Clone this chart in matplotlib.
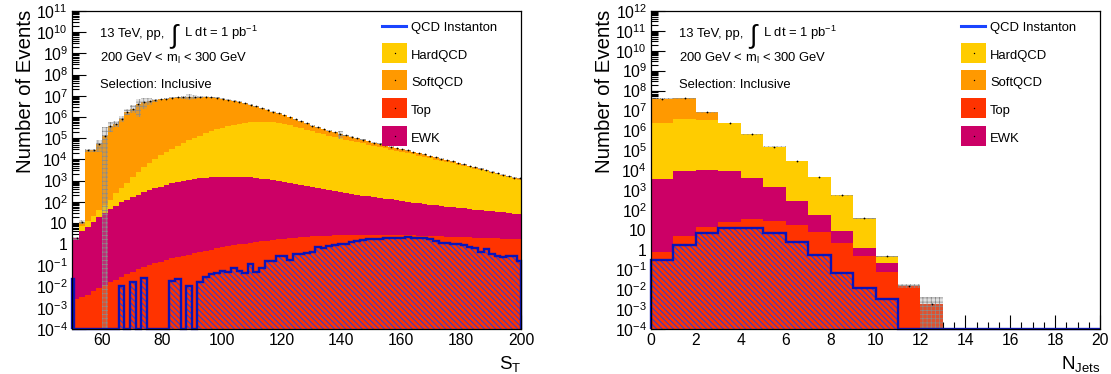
import numpy as np
import matplotlib
matplotlib.use('Agg')
import matplotlib.pyplot as plt
from matplotlib.ticker import FixedLocator, LogLocator, NullFormatter, FuncFormatter, MultipleLocator
from matplotlib.lines import Line2D
from matplotlib.patches import Rectangle

plt.rcParams['font.family'] = ['Liberation Sans', 'DejaVu Sans']
plt.rcParams['mathtext.fontset'] = 'custom'
plt.rcParams['mathtext.rm'] = 'Liberation Sans'
plt.rcParams['mathtext.it'] = 'Liberation Sans:italic'
plt.rcParams['mathtext.bf'] = 'Liberation Sans:bold'
plt.rcParams['hatch.linewidth'] = 0.7

W, H = 1111, 374

C_HARD = '#ffcc00'
C_SOFT = '#ff9900'
C_TOP = '#ff3300'
C_EWK = '#cc0066'
C_INST = '#0b14b8'
C_INST_LEG = '#1a44ff'
C_HATCH = '#2a3fd8'

nan = np.nan

# ---------------- S_T distribution (log10 of events per 1.875 GeV bin) ----------------
st_top_log = [-2.67, -2.6, -2.5, -2.38, -2.2, -2.05, -1.92, -1.8, -1.67, -1.54,
              -1.41, -1.29, -1.18, -1.07, -0.98, -0.9, -0.82, -0.74, -0.67, -0.61,
              -0.55, -0.49, -0.43, -0.37, -0.31, -0.26, -0.2, -0.15, -0.1, -0.05,
              -0.01, 0.03, 0.07, 0.11, 0.14, 0.17, 0.2, 0.23, 0.26, 0.28,
              0.31, 0.33, 0.35, 0.37, 0.38, 0.4, 0.41, 0.42, 0.43, 0.44,
              0.44, 0.45, 0.45, 0.45, 0.45, 0.45, 0.45, 0.44, 0.44, 0.43,
              0.43, 0.42, 0.41, 0.4, 0.39, 0.38, 0.37, 0.36, 0.35, 0.34,
              0.33, 0.32, 0.31, 0.3, 0.29, 0.28, 0.27, 0.26, 0.25, 0.24, 0.24]
st_ewk_log = [0.28, 0.28, 0.6, 0.82, 1.05, 1.28, 1.48, 1.66, 1.82, 1.97,
              2.1, 2.22, 2.34, 2.45, 2.55, 2.64, 2.72, 2.8, 2.87, 2.93,
              2.98, 3.03, 3.07, 3.1, 3.13, 3.15, 3.17, 3.18, 3.19, 3.19,
              3.18, 3.17, 3.15, 3.12, 3.09, 3.06, 3.02, 2.98, 2.94, 2.9,
              2.86, 2.81, 2.76, 2.71, 2.66, 2.61, 2.56, 2.51, 2.46, 2.41,
              2.37, 2.33, 2.29, 2.25, 2.21, 2.17, 2.13, 2.1, 2.06, 2.02,
              1.99, 1.95, 1.92, 1.89, 1.85, 1.82, 1.79, 1.76, 1.73, 1.7,
              1.67, 1.64, 1.61, 1.58, 1.55, 1.52, 1.5, 1.47, 1.44, 1.41, 1.38]
st_hard_log = [nan, nan, 0.49, 0.78, 1.05, 1.32, 1.61, 1.9, 2.27, 2.55,
               2.82, 3.1, 3.36, 3.59, 3.8, 3.98, 4.17, 4.34, 4.49, 4.63,
               4.76, 4.89, 5.01, 5.12, 5.22, 5.32, 5.41, 5.49, 5.56, 5.62,
               5.67, 5.71, 5.74, 5.76, 5.77, 5.77, 5.75, 5.71, 5.67, 5.61,
               5.54, 5.47, 5.4, 5.33, 5.26, 5.19, 5.12, 5.06, 4.99, 4.93,
               4.87, 4.81, 4.75, 4.69, 4.63, 4.57, 4.52, 4.46, 4.4, 4.34,
               4.29, 4.23, 4.17, 4.11, 4.05, 3.99, 3.93, 3.87, 3.81, 3.75,
               3.69, 3.62, 3.56, 3.49, 3.43, 3.36, 3.29, 3.22, 3.15, 3.08, 3.04]
st_soft_log = [nan, nan, 0.66, 4.43, 4.43, 4.73, 5.1, 5.58, 5.68, 5.92,
               6.25, 6.4, 6.62, 6.7, 6.76, 6.8, 6.83, 6.87, 6.9, 6.92,
               6.94, 6.95, 6.95, 6.95, 6.94, 6.92, 6.89, 6.85, 6.8, 6.74,
               6.68, 6.6, 6.51, 6.41, 6.31, 6.2, 6.09, 6.0, 5.89, 5.77,
               5.64, 5.52, 5.39, 5.25, 5.16, 5.07, 4.97, 4.86, 4.79, 4.71,
               4.62, 4.53, 4.44, 4.38, 4.28, 4.23, 4.15, 4.05, 3.99, 3.93,
               3.84, 3.74, 3.69, 3.63, 3.52, 3.46, 3.36, 3.29, 3.18, 3.07,
               2.95, 2.87, 2.75, 2.67, 2.53, 2.46, 2.38, 2.32, 2.25, 2.18, 2.14]
st_inst_log = [-1.62, nan, nan, nan, nan, nan, nan, nan, nan, -1.99,
               nan, -1.76, nan, -1.58, nan, nan, nan, nan, -1.72, -1.62,
               nan, -1.97, nan, -1.76, -1.55, -1.42, -1.35, -1.25, -1.3, -1.1,
               -1.25, -1.37, -0.95, -1.33, -1.1, -0.8, -0.8, -0.55, -0.55, -0.75,
               -0.45, -0.45, -0.4, -0.37, -0.15, -0.2, -0.08, -0.05, 0.0, 0.03,
               0.12, 0.15, 0.2, 0.25, 0.25, 0.25, 0.31, 0.31, 0.31, 0.31,
               0.36, 0.3, 0.28, 0.28, 0.25, 0.17, 0.08, 0.05, 0.0, 0.0,
               -0.05, -0.14, -0.2, -0.35, -0.24, -0.46, -0.55, -0.62, -0.58, -0.55, -0.79]
# relative statistical uncertainty of the summed background
st_err_rel = [0.15, 0.15, 0.2, 0.2, 0.2, 0.6, 1.8, 0.5, 0.33, 0.3,
              0.28, 0.4, 0.76, 0.5, 0.35, 0.16, 0.06, 0.06, 0.05, 0.05,
              0.15, 0.3, 0.25, 0.1, 0.05, 0.05, 0.05, 0.05, 0.05, 0.05,
              0.05, 0.05, 0.05, 0.05, 0.05, 0.05, 0.05, 0.05, 0.05, 0.05,
              0.05, 0.05, 0.05, 0.05, 0.05, 0.05, 0.05, 0.05, 0.4, 0.05,
              0.04, 0.04, 0.04, 0.04, 0.04, 0.04, 0.04, 0.04, 0.04, 0.04,
              0.04, 0.04, 0.04, 0.04, 0.04, 0.04, 0.04, 0.04, 0.04, 0.04,
              0.04, 0.04, 0.04, 0.04, 0.04, 0.04, 0.04, 0.04, 0.04, 0.04, 0.04]
# S_T histogram uses 1.875 GeV bins starting at 0; these are bins 26..106
st_edges = 1.875 * np.arange(26, 108)

# ---------------- N_jets distribution ----------------
nj_top_log = [-0.13, 0.70, 1.15, 1.4, 1.52, 1.44, 1.22, 0.88, 0.32, -0.32,
              -1.11, -1.83, -2.72, nan, nan, nan, nan, nan, nan, nan]
nj_ewk_log = [3.57, 3.95, 4.0, 3.97, 3.6, 3.13, 2.43, 1.68, 0.79, -0.16,
              -0.9, nan, nan, nan, nan, nan, nan, nan, nan, nan]
nj_hard_log = [6.38, 6.55, 6.52, 6.35, 5.79, 5.17, 4.45, 3.63, 2.72, 1.56,
               -0.61, nan, nan, nan, nan, nan, nan, nan, nan, nan]
nj_soft_log = [7.57, 7.56, 6.67, nan, nan, nan, nan, nan, nan, nan,
               nan, nan, nan, nan, nan, nan, nan, nan, nan, nan]
nj_inst_log = [-0.55, 0.23, 0.82, 1.1, 1.1, 0.85, 0.4, -0.3, -1.16, -1.94,
               -2.49, nan, nan, nan, nan, nan, nan, nan, nan, nan]
nj_err_rel = [0.05, 0.08, 0.05, 0.02, 0.02, 0.02, 0.02, 0.02, 0.03, 0.05,
              0.1, 0.2, 1.05, 0, 0, 0, 0, 0, 0, 0]
nj_edges = np.arange(0, 21)

FLOOR = 1e-7


def lin(a):
    return np.nan_to_num(10.0 ** np.asarray(a, dtype=float), nan=0.0)


def fx(px):
    return px / W


def fy(py):
    return 1 - py / H


def exp_label(v, pos):
    e = int(round(np.log10(v)))
    if e == 0:
        return '1'
    if e == 1:
        return '10'
    return r'$10^{%d}$' % e


def draw_panel(ax, edges, top, ewk, hard, soft, inst, err_rel, xlim, ylim):
    top, ewk, hard, soft, inst = map(lin, (top, ewk, hard, soft, inst))
    c1 = top
    c2 = c1 + ewk
    c3 = c2 + hard
    c4 = c3 + soft

    # stacked backgrounds, largest cumulative first
    for vals, col in [(c4, C_SOFT), (c3, C_HARD), (c2, C_EWK), (c1, C_TOP)]:
        ax.stairs(np.maximum(vals, FLOOR), edges, baseline=FLOOR, fill=True,
                  facecolor=col, edgecolor='none', lw=0, zorder=1)

    # statistical band on the total
    err = c4 * np.asarray(err_rel)
    up = np.maximum(c4 + err, FLOOR)
    lo = np.maximum(c4 - err, FLOOR)
    band = ax.stairs(up, edges, baseline=lo, fill=True,
                     facecolor=(0.6, 0.6, 0.6, 0.3), edgecolor='#8a8a8a',
                     hatch='++++', lw=0, zorder=2)
    if hasattr(band, 'set_hatch_linewidth'):
        band.set_hatch_linewidth(0.5)

    # markers at the total
    centers = 0.5 * (edges[:-1] + edges[1:])
    ok = c4 > 0
    ax.plot(centers[ok], c4[ok], ls='none', marker='o', ms=1.3, mew=0,
            color='k', zorder=3)

    # instanton signal: hatched overlay with thick outline
    ymin = ylim[0]
    hat = ax.stairs(np.maximum(inst, FLOOR), edges, baseline=FLOOR, fill=True,
                    facecolor='none', edgecolor=C_HATCH, hatch='\\\\\\\\\\\\',
                    lw=0, zorder=4)
    if hasattr(hat, 'set_hatch_linewidth'):
        hat.set_hatch_linewidth(0.8)
    e_draw = np.clip(edges, xlim[0], xlim[1])
    ax.stairs(np.maximum(inst, ymin), e_draw, baseline=ymin, fill=False,
              color=C_INST, lw=1.7, zorder=5, clip_on=False)

    ax.set_yscale('log')
    ax.set_xlim(*xlim)
    ax.set_ylim(*ylim)
    lo_e, hi_e = int(round(np.log10(ylim[0]))), int(round(np.log10(ylim[1])))
    ax.yaxis.set_major_locator(FixedLocator([10.0 ** e for e in range(lo_e, hi_e + 1)]))
    ax.yaxis.set_major_formatter(FuncFormatter(exp_label))
    ax.yaxis.set_minor_locator(LogLocator(base=10, subs=np.arange(2, 10), numticks=200))
    ax.yaxis.set_minor_formatter(NullFormatter())
    ax.set_axisbelow(True)
    ax.tick_params(which='both', direction='in', top=False, right=False,
                   labelsize=11.3, width=0.8, color='black')
    ax.tick_params(which='major', length=10, pad=3)
    ax.tick_params(which='minor', length=5)
    for s in ax.spines.values():
        s.set_linewidth(0.9)
        s.set_zorder(6)


fig = plt.figure(figsize=(W / 100, H / 100), dpi=100, facecolor='white')

ax_l = fig.add_axes([fx(72), fy(329), (521 - 72) / W, (329 - 11) / H])
ax_r = fig.add_axes([fx(651), fy(329), (1100 - 651) / W, (329 - 11) / H])

draw_panel(ax_l, st_edges, st_top_log, st_ewk_log, st_hard_log, st_soft_log,
           st_inst_log, st_err_rel, (50, 200), (1e-4, 1e11))
ax_l.xaxis.set_major_locator(MultipleLocator(20))
ax_l.xaxis.set_minor_locator(MultipleLocator(4))

draw_panel(ax_r, nj_edges, nj_top_log, nj_ewk_log, nj_hard_log, nj_soft_log,
           nj_inst_log, nj_err_rel, (0, 20), (1e-4, 1e12))
ax_r.xaxis.set_major_locator(MultipleLocator(2))
ax_r.xaxis.set_minor_locator(MultipleLocator(0.5))

# axis titles, labels and legends (placed in pixel units of the canvas)
for dx, xtitle in [(0, r'S$_{\rm T}$'), (579, r'N$_{\rm Jets}$')]:
    fig.text(fx(26 + dx), fy(10), 'Number of Events', rotation=90,
             ha='center', va='top', fontsize=14.7)
    fig.text(fx(521 + dx), fy(369), xtitle, ha='right', va='baseline', fontsize=13.5)

    fig.text(fx(100 + dx), fy(36.7), '13 TeV, pp,', ha='left', va='baseline', fontsize=9.4)
    fig.text(fx(170 + dx), fy(42), '\u222b', ha='left', va='baseline', fontsize=19)
    fig.text(fx(184 + dx), fy(36.7), r'L dt = 1 pb$^{-1}$', ha='left', va='baseline', fontsize=9.4)
    fig.text(fx(100 + dx), fy(62), r'200 GeV < m$_{\rm l}$ < 300 GeV', ha='left',
             va='baseline', fontsize=9.4)
    fig.text(fx(100 + dx), fy(88), 'Selection: Inclusive', ha='left', va='baseline', fontsize=9.4)

    # legend
    fig.add_artist(Line2D([fx(382 + dx), fx(406 + dx)], [fy(25.7), fy(25.7)],
                          color=C_INST_LEG, lw=2.2))
    fig.text(fx(411 + dx), fy(30.7), 'QCD Instanton', ha='left', va='baseline', fontsize=9.4)
    for (y0, y1, base), col, name in zip([(43.3, 62.7, 59.3), (70, 90, 86),
                                          (98.3, 117.7, 114), (126, 145.7, 142)],
                                         [C_HARD, C_SOFT, C_TOP, C_EWK],
                                         ['HardQCD', 'SoftQCD', 'Top', 'EWK']):
        fig.add_artist(Rectangle((fx(382 + dx), fy(y1)), 25 / W, (y1 - y0) / H,
                                 facecolor=col, edgecolor='none',
                                 transform=fig.transFigure))
        fig.add_artist(Line2D([fx(394.5 + dx)], [fy((y0 + y1) / 2)], marker='o', ms=1.0,
                              mew=0, color='k', ls='none'))
        fig.text(fx(411 + dx), fy(base), name, ha='left', va='baseline', fontsize=9.4)

fig.savefig('out.png', dpi=100, facecolor='white')
